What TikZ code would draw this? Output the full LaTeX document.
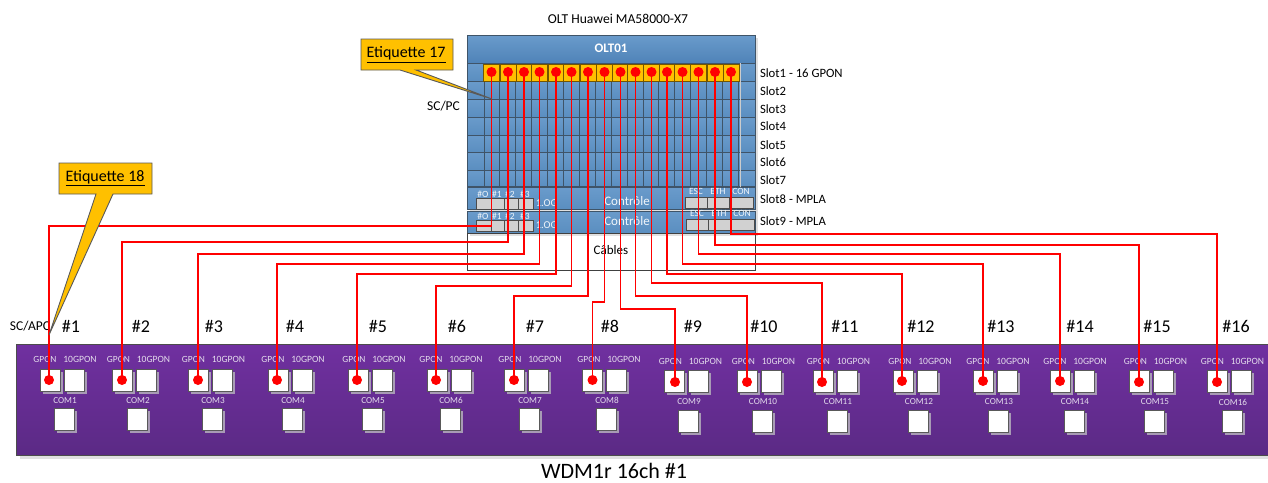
\documentclass[tikz,border=0pt]{standalone}
\usepackage{fontspec}
\setmainfont{Carlito}
\usetikzlibrary{calc}
\definecolor{bluetop}{HTML}{6A9BCB}
\definecolor{bluebot}{HTML}{5A8EC0}
\definecolor{bandbot}{HTML}{4F83B8}
\definecolor{edgeblue}{HTML}{3F5468}
\definecolor{purtop}{HTML}{7030A0}
\definecolor{purbot}{HTML}{5B2A85}
\definecolor{amber}{HTML}{FFC000}
\definecolor{wirered}{HTML}{FF0000}
\definecolor{lab}{HTML}{E4DCEC}
\definecolor{hatch}{HTML}{A89BB5}
\tikzset{
  x=1pt,y=-1pt,
  every node/.style={inner sep=0pt,outer sep=0pt},
  slotrow/.style={draw=edgeblue,line width=1pt,top color=bluetop,bottom color=bluebot},
  band/.style={draw=edgeblue,line width=1pt,top color=bluetop,bottom color=bandbot},
  cellgrid/.style={draw=edgeblue,line width=0.9pt},
  portcell/.style={draw=black!55!amber,line width=0.7pt,fill=amber},
  dot/.style={circle,fill=wirered,minimum size=10pt},
  wire/.style={draw=wirered,line width=1.2pt},
  txt/.style={font=\fontsize{12.7}{14}\selectfont,text=black},
  wlab/.style={font=\fontsize{9.4}{11}\selectfont,text=lab},
  tlab/.style={font=\fontsize{9.6}{11}\selectfont,text=lab},
  mlab/.style={font=\fontsize{9.2}{10}\selectfont,text=lab},
  hash/.style={font=\fontsize{18}{19}\selectfont,text=black},
  wbox/.style={draw=black!65,line width=0.9pt,fill=white,minimum width=20pt,minimum height=22pt},
  wshadow/.style={fill=hatch,draw=none,minimum width=20pt,minimum height=22pt},
  gbox/.style={draw=black!70,line width=0.9pt,fill=black!18},
  clab/.style={text=white!90!bluetop,font=\fontsize{9.5}{10}\selectfont},
  ctrl/.style={text=white!90!bluetop,font=\fontsize{13}{14}\selectfont},
  callout/.style={draw=black!65,line width=0.9pt,fill=amber},
  calltxt/.style={font=\fontsize{16}{17}\selectfont,text=black},
}
\begin{document}
\begin{tikzpicture}
\useasboundingbox (0,0) rectangle (1268,482);
\fill[white] (0,0) rectangle (1268,482);
% OLT
\node[font=\fontsize{13.6}{15}\selectfont,text=black] (olttitle) at (618,19) {OLT Huawei MA58000-X7};
\fill[black!12] (470,38) rectangle (758,236);
\draw[band] (467,35) rectangle (755,63);
\node[font=\bfseries\fontsize{13}{14}\selectfont,text=white] (olt) at (611,48) {OLT01};
\foreach \yt/\yb in {63/81,81/99,99/117,117/135,135/152,152/170,170/186.5}{
  \draw[slotrow] (467,\yt) rectangle (755,\yb);
  \foreach \c in {0,...,16}{\draw[cellgrid] ({484+\c*15.9},\yt) -- ({484+\c*15.9},\yb);}
  \draw[black!20,line width=0.8pt] (740,\yt) -- (740,\yb);
}
\draw[slotrow] (467,187) rectangle (755,209.5);
\draw[slotrow] (467,211) rectangle (755,233);
\draw[black!75,line width=0.8pt] (467,233) rectangle (755,270);
\node[font=\fontsize{13}{14}\selectfont,text=black] (cables) at (611,250) {Câbles};
% control cards
\foreach \dy/\dx/\ct in {0/0/201,22/1/221}{
  \foreach \xa/\xb/\lx/\t in {476/491/483/\#O,491/504/497/\#1,504/518/510/\#2,518/533/525/\#3}{
    \draw[gbox] (\xa,198+\dy) rectangle (\xb,209+\dy);
    \node[clab] at (\lx,194+\dy) {\t};
  }
  \node[clab,font=\fontsize{10.5}{12}\selectfont] at (546.5,203.5+\dy) {1.OG};
  \node[ctrl] at (627,\ct) {Contrôle};
  \foreach \xa/\xb/\t in {685/707/ESC,707/729/ETH,729/753/CON}{
    \draw[gbox] ({\xa+\dx},197+\dy) rectangle ({\xb+\dx},208+\dy);
    \node[clab] at ({(\xa+\xb)/2+\dx},191+\dy) {\t};
  }
}
% slot labels
\foreach \y/\t [count=\i] in {73/Slot1 - 16 GPON,91/Slot2,109/Slot3,126/Slot4,145/Slot5,162/Slot6,180/Slot7,199/Slot8 - MPLA,221/Slot9 - MPLA}{
  \node[txt,anchor=west] (slot\i) at (760,\y) {\t};
}
\node[font=\fontsize{13.5}{15}\selectfont,text=black] (scpc) at (443.5,106) {SC/PC};
% OLT ports
\foreach \x [count=\i] in {491.5,508,524,539.5,556,571.5,588,604.5,620.5,635.5,651.5,667,682.5,698.5,715,731}{
  \node[portcell,minimum width=15.9pt,minimum height=17pt] (c\i) at (\x,72.5) {};
}
% WDM
\fill[black!12] (20,349) rectangle (1268,459);
\draw[draw=black!70,line width=0.9pt,top color=purtop,bottom color=purbot] (16,344) rectangle (1272,455);
\foreach \gx/\cx/\hx/\gl/\dy [count=\i] in {
  40/64/71/45/0,112/137/141/118.5/0,188/212/214/193.5/0,268/292/295/273/0,
  348/372/378/354/0,427/450/457/431/0,504/529/535/510/0,582/606/610/589/0,
  664/688/693/670.5/1.5,737/762/764/743.5/1.5,813/837/845/818.5/1.5,893/918/921/900/1.5,
  973/998/1001/978/1.5,1050/1074/1080/1055/1.5,1129/1154/1157/1135.5/1.5,1207/1232/1236/1212.5/1.5}{
  \node[hash] (h\i) at (\hx,326) {\#\i};
  \node[wlab] (gl\i) at (\gl,359.5+\dy) {GPON};
  \node[tlab] (tl\i) at ({\gl+35},359.5+\dy) {10GPON};
  \node[mlab] (cl\i) at ({\cx+1},400.5+\dy) {COM\i};
  \node[wshadow] at ({\gx+10+2.5},382.5+\dy) {};
  \node[wshadow] at ({\gx+34.5+2.5},382.5+\dy) {};
  \node[wshadow] at ({\cx+2.5},422+\dy) {};
  \node[wbox] (g\i) at ({\gx+10},380+\dy) {};
  \node[wbox] (t\i) at ({\gx+34.5},380+\dy) {};
  \node[wbox] (m\i) at (\cx,419.5+\dy) {};
}
\node[font=\fontsize{22}{24}\selectfont,text=black] (wdm) at (614,470.5) {WDM1r 16ch \#1};
\node[font=\fontsize{13.5}{15}\selectfont,text=black] (scapc) at (30,326) {SC/APC};
% wires
\foreach \x/\y [count=\i] in {49/380,122/380,198/380,277/380,357/380,436/380,514/380,592.5/380,675/382,747/382,822/382,902/381,983/381,1060/381,1139/382,1217/382}{
  \node[dot] (w\i) at (\x,\y) {};
}
\foreach \x [count=\i] in {491.5,508,524,539.5,556,571.5,588,604.5,620.5,635.5,651.5,667,682.5,698.5,715,731}{
  \node[dot] (p\i) at (\x,72) {};
}
\foreach \i/\y in {1/226,2/242,3/254,4/264,5/274,6/286,7/296,8/302,9/309,10/296,11/283,12/274,13/264,14/254,15/245,16/234}{
  \draw[wire] (p\i.center) -- (p\i |- 0,\y) -- (w\i |- 0,\y) -- (w\i.center);
}
% callouts
\draw[callout] (361,39) -- (453,39) -- (453,70) -- (416,70) -- (492,99) -- (400,70) -- (361,70) -- cycle;
\node[calltxt] (e17) at (406,54.5) {\underline{Etiquette 17}};
\draw[callout] (59,163) -- (152,163) -- (152,194) -- (113,194) -- (49,335) -- (96,194) -- (59,194) -- cycle;
\node[calltxt] (e18) at (105,178) {\underline{Etiquette 18}};
\end{tikzpicture}
\end{document}
